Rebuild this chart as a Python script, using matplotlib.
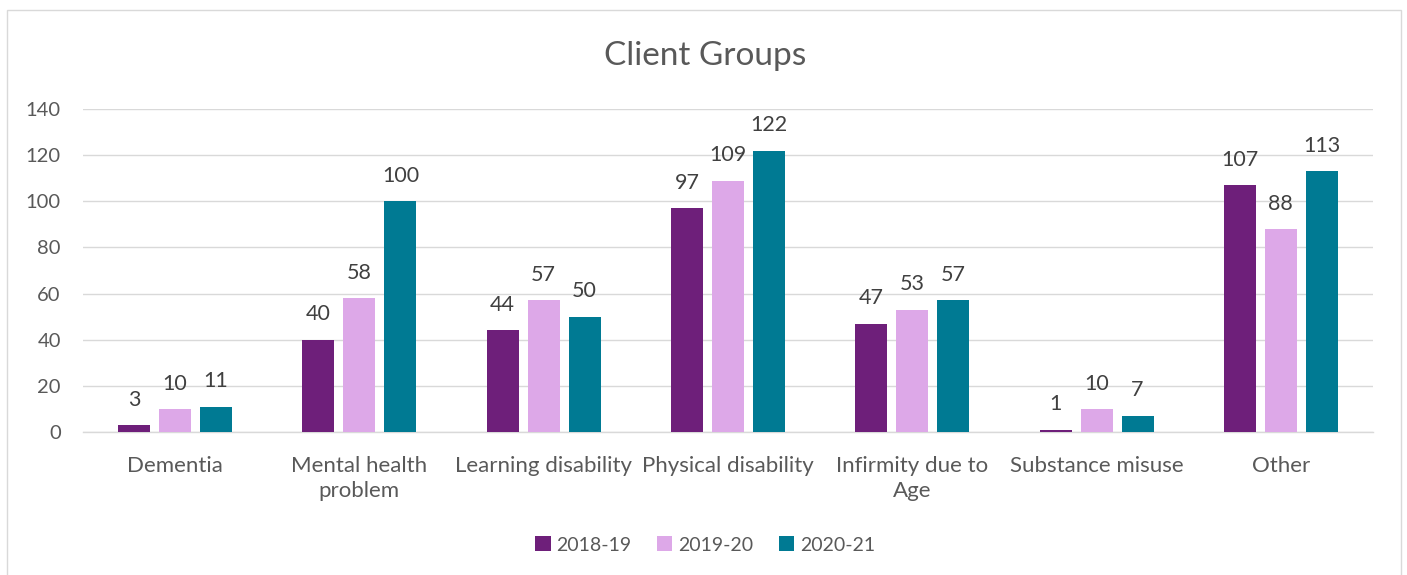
import matplotlib
matplotlib.use("Agg")
import matplotlib.pyplot as plt
import numpy as np
from matplotlib.patches import Rectangle

categories = ["Dementia", "Mental health\nproblem", "Learning disability", "Physical disability",
              "Infirmity due to\nAge", "Substance misuse", "Other"]
series_names = ["2018-19", "2019-20", "2020-21"]
v2018 = [3, 40, 44, 97, 47, 1, 107]
v2019 = [10, 58, 57, 109, 53, 10, 88]
v2020 = [11, 100, 50, 122, 57, 7, 113]
colors = ["#6E1F7A", "#DDA8E8", "#007A93"]
yticks = [0, 20, 40, 60, 80, 100, 120, 140]

plt.rcParams['font.family'] = ['Lato', 'DejaVu Sans']
txt = "#595959"

fig = plt.figure(figsize=(14.07, 5.75), dpi=100)
W, H = 1407, 575
# outer chart border
fig.patches.append(Rectangle((7 / W, -0.01), (1401 - 7) / W, (575 - 10) / H + 0.01,
                             transform=fig.transFigure, fill=False, edgecolor="#D9D9D9", lw=1.0))

ax = fig.add_axes([83 / W, 1 - 432 / H, (1373 - 83) / W, (432 - 109) / H])
x = np.arange(len(categories))
bw = 32 / 184.3
step = 41 / 184.3
for i, (vals, c, n) in enumerate(zip([v2018, v2019, v2020], colors, series_names)):
    bars = ax.bar(x + (i - 1) * step, vals, width=bw, color=c, label=n, zorder=3)
    for b, v in zip(bars, vals):
        ax.text(b.get_x() + b.get_width() / 2, v + 11, str(v), ha="center", va="center",
                fontsize=15.5, color="#404040")

ax.set_xlim(-0.5, len(categories) - 0.5)
ax.set_ylim(0, 140)
ax.set_yticks(yticks)
ax.set_yticklabels([str(t) for t in yticks], fontsize=14.5, color=txt)
ax.set_xticks(x)
ax.set_xticklabels(categories, fontsize=16, color=txt, linespacing=1.35)
ax.tick_params(axis="both", length=0)
ax.tick_params(axis="y", pad=16)
ax.tick_params(axis="x", pad=17)
ax.grid(axis="y", color="#D9D9D9", lw=1.0, zorder=0)
for s in ["top", "right", "left"]:
    ax.spines[s].set_visible(False)
ax.spines["bottom"].set_color("#D9D9D9")
ax.spines["bottom"].set_linewidth(1.0)

fig.text(705 / W, 1 - 56 / H, "Client Groups", ha="center", va="center", fontsize=24, color=txt)

leg = fig.legend(loc="center", bbox_to_anchor=(705 / W, 1 - 545 / H), ncol=3, frameon=False,
                 fontsize=14, handlelength=0.8, handleheight=0.8, handletextpad=0.3,
                 columnspacing=1.3)
for t in leg.get_texts():
    t.set_color(txt)

fig.savefig("out.png", dpi=100)
